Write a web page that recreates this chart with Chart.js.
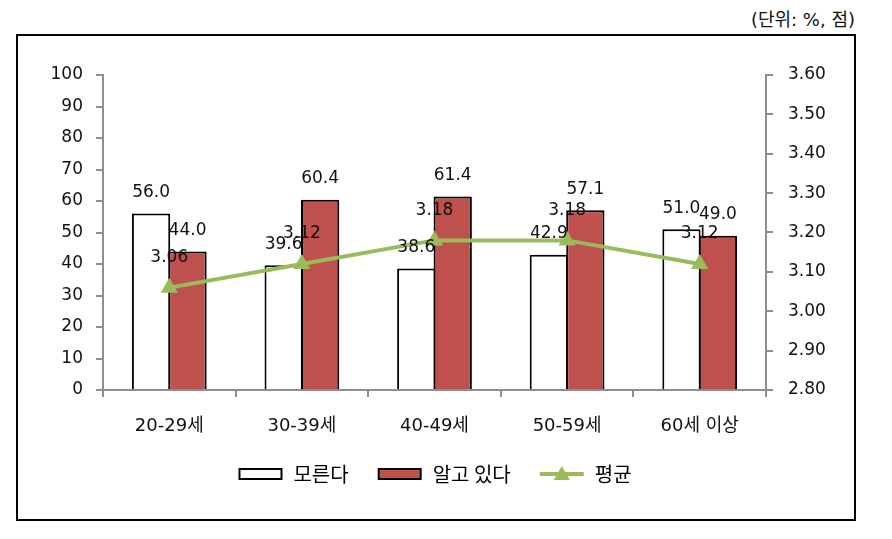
<!DOCTYPE html>
<html>
<head>
<meta charset="utf-8">
<script src="https://cdn.jsdelivr.net/npm/chart.js@4.4.1/dist/chart.umd.min.js"></script>
<style>
body { margin: 0; background: #fff; }
#wrap { position: relative; width: 892px; height: 539px; }
#frame { position: absolute; left: 16px; top: 34px; width: 840px; height: 487px; border: 2px solid #000; box-sizing: border-box; }
#unit { position: absolute; right: 37px; top: 9px; line-height: 22px; font-size: 18px; font-family: 'DejaVu Sans', 'Noto Sans CJK KR'; color: #111; }
canvas { position: absolute; left: 0; top: 0; }
</style>
</head>
<body>
<div id="wrap">
  <div id="frame"></div>
  <div id="unit">(단위: %, 점)</div>
  <canvas id="myChart" width="892" height="539"></canvas>
</div>
<script>
// 데이터
var categories = ['20-29세', '30-39세', '40-49세', '50-59세', '60세 이상'];
var moreunda = [56.0, 39.6, 38.6, 42.9, 51.0];   // 모른다
var algoitda = [44.0, 60.4, 61.4, 57.1, 49.0];   // 알고 있다
var pyeonggyun = [3.06, 3.12, 3.18, 3.18, 3.12]; // 평균

var axisColor = '#8e8e8e';
var textColor = '#111';
var numFont = "'DejaVu Sans', 'Noto Sans CJK KR'";

// 범례 아이콘 (막대/선)
function legendIcon(kind) {
    var c = document.createElement('canvas');
    c.width = 46; c.height = 22;
    var g = c.getContext('2d');
    if (kind === 'line') {
        g.strokeStyle = '#9BBB59';
        g.lineWidth = 4;
        g.beginPath(); g.moveTo(1, 11); g.lineTo(45, 11); g.stroke();
        g.fillStyle = '#9BBB59';
        g.beginPath(); g.moveTo(23, 3); g.lineTo(31, 17); g.lineTo(15, 17); g.closePath(); g.fill();
    } else {
        g.fillStyle = kind === 'red' ? '#BE504D' : '#fff';
        g.fillRect(2, 6, 42, 10);
        g.strokeStyle = '#000';
        g.lineWidth = 2;
        g.strokeRect(2, 6, 42, 10);
    }
    return c;
}
var icons = [legendIcon('white'), legendIcon('red'), legendIcon('line')];

// 값 라벨
var valueLabels = {
    id: 'valueLabels',
    afterDatasetsDraw: function (chart) {
        var ctx = chart.ctx;
        ctx.save();
        ctx.fillStyle = textColor;
        ctx.textAlign = 'center';
        ctx.textBaseline = 'middle';
        ctx.font = '17px ' + numFont;
        chart.data.datasets.forEach(function (ds, i) {
            var meta = chart.getDatasetMeta(i);
            meta.data.forEach(function (el, j) {
                var isLine = ds.type === 'line';
                var txt = isLine ? ds.data[j].toFixed(2) : ds.data[j].toFixed(1);
                ctx.fillText(txt, el.x, el.y - (isLine ? 30 : 21));
            });
        });
        ctx.restore();
    }
};

var ctx = document.getElementById('myChart').getContext('2d');
new Chart(ctx, {
    type: 'bar',
    data: {
        labels: categories,
        datasets: [{
            label: '모른다',
            data: moreunda,
            backgroundColor: '#ffffff',
            borderColor: '#000',
            borderWidth: 2,
            yAxisID: 'y',
            order: 1
        },
        {
            label: '알고 있다',
            data: algoitda,
            backgroundColor: '#BE504D',
            borderColor: '#000',
            borderWidth: 2,
            yAxisID: 'y',
            order: 2
        },
        {
            type: 'line',
            label: '평균',
            data: pyeonggyun,
            borderColor: '#9BBB59',
            borderWidth: 4,
            pointStyle: 'triangle',
            pointRadius: 10,
            pointBackgroundColor: '#9BBB59',
            pointBorderWidth: 0,
            tension: 0,
            yAxisID: 'y1',
            order: 0
        }]
    },
    options: {
        responsive: false,
        animation: false,
        categoryPercentage: 0.55,
        barPercentage: 1.05,
        layout: { padding: { left: 43, right: 66, top: 75, bottom: 45 } },
        plugins: {
            tooltip: { enabled: false },
            legend: {
                position: 'bottom',
                labels: {
                    usePointStyle: true,
                    pointStyleWidth: 46,
                    boxHeight: 20,
                    padding: 28,
                    color: '#000',
                    font: { size: 20, family: "'Noto Sans CJK KR'" },
                    generateLabels: function (chart) {
                        return chart.data.datasets.map(function (ds, i) {
                            return { text: ds.label, pointStyle: icons[i], fillStyle: 'transparent',
                                     strokeStyle: 'transparent', lineWidth: 0, hidden: false,
                                     datasetIndex: i, fontColor: '#000' };
                        });
                    }
                }
            }
        },
        scales: {
            x: {
                grid: { display: true, drawOnChartArea: false, drawTicks: true, tickLength: 7,
                        color: axisColor, lineWidth: 2, offset: true },
                border: { color: axisColor, width: 2 },
                ticks: { color: textColor, padding: 19, font: { size: 18, family: numFont } },
                afterFit: function (s) { s.height = 46; }
            },
            y: {
                position: 'left',
                min: 0, max: 100,
                grid: { drawOnChartArea: false, tickLength: 7, color: axisColor, lineWidth: 2 },
                border: { color: axisColor, width: 2 },
                ticks: { stepSize: 10, color: textColor, padding: 13, font: { size: 17, family: numFont } },
                afterFit: function (s) { s.width = 60; }
            },
            y1: {
                position: 'right',
                min: 2.8, max: 3.6,
                grid: { drawOnChartArea: false, tickLength: 7, color: axisColor, lineWidth: 2 },
                border: { color: axisColor, width: 2 },
                ticks: { stepSize: 0.1, color: textColor, padding: 15, font: { size: 17, family: numFont },
                         callback: function (v) { return v.toFixed(2); } },
                afterFit: function (s) { s.width = 60; }
            }
        }
    },
    plugins: [valueLabels]
});
</script>
</body>
</html>
